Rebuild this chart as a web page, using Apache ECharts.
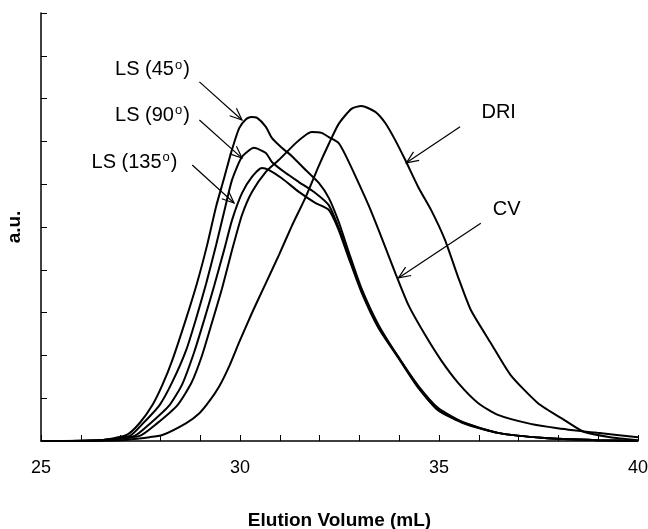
<!DOCTYPE html>
<html>
<head>
<meta charset="utf-8">
<script src="https://cdn.jsdelivr.net/npm/echarts@6/dist/echarts.min.js"></script>
<style>
  html, body { margin: 0; padding: 0; background: #fff; }
  #main { width: 648px; height: 529px; }
</style>
</head>
<body>
<div id="main"></div>
<script>
// elution volume (mL) / detector response (a.u.)
var ls45 = [[25,0],[26.5,0.02],[27.15,0.14],[27.48,0.42],[27.8,0.84],[28.05,1.31],[28.3,1.89],[28.65,2.87],[28.93,3.72],[29.18,4.6],[29.4,5.48],[29.6,6.14],[29.78,6.75],[29.98,7.31],[30.15,7.52],[30.28,7.57],[30.43,7.55],[30.65,7.34],[30.8,7.08],[31.05,6.85],[31.3,6.66],[31.65,6.33],[31.98,6.03],[32.23,5.68],[32.48,5.12],[32.73,4.42],[33.05,3.57],[33.48,2.71],[33.98,1.96],[34.48,1.29],[34.98,0.77],[35.65,0.42],[36.48,0.19],[37.65,0.07],[38.98,0.02],[40,0]];
var ls90 = [[25,0],[26.48,0.02],[27.23,0.12],[27.55,0.4],[27.98,0.84],[28.3,1.38],[28.65,2.13],[28.9,2.87],[29.15,3.68],[29.4,4.58],[29.6,5.35],[29.8,6.1],[30.05,6.64],[30.35,6.85],[30.65,6.73],[30.8,6.52],[31.15,6.26],[31.48,6.05],[31.9,5.79],[32.23,5.51],[32.48,4.98],[32.73,4.32],[33.05,3.53],[33.48,2.66],[33.98,1.96],[34.48,1.26],[34.98,0.72],[35.65,0.42],[36.48,0.19],[37.65,0.07],[38.98,0.02],[40,0]];
var ls135 = [[25,0],[26.48,0.02],[27.35,0.12],[27.73,0.4],[28.23,0.84],[28.55,1.33],[28.85,2.08],[29.1,2.83],[29.35,3.62],[29.6,4.46],[29.8,5.16],[30.05,5.79],[30.3,6.17],[30.55,6.38],[30.73,6.33],[31.05,6.14],[31.48,5.82],[31.9,5.56],[32.23,5.4],[32.48,4.93],[32.73,4.28],[33.05,3.48],[33.48,2.64],[33.98,1.94],[34.48,1.24],[34.98,0.72],[35.65,0.4],[36.48,0.19],[37.65,0.07],[38.98,0.02],[40,0]];
var cv = [[25,0],[26.48,0.02],[27.48,0.12],[27.9,0.4],[28.43,0.84],[28.78,1.36],[29.05,2.01],[29.3,2.78],[29.55,3.57],[29.8,4.46],[30.05,5.28],[30.3,5.82],[30.65,6.29],[30.98,6.57],[31.4,6.96],[31.65,7.15],[31.8,7.22],[32.05,7.2],[32.23,7.1],[32.48,6.96],[32.65,6.68],[32.9,6.19],[33.23,5.51],[33.55,4.77],[33.9,3.93],[34.23,3.18],[34.65,2.48],[35.05,1.89],[35.48,1.36],[35.98,0.89],[36.48,0.61],[37.3,0.4],[37.98,0.3],[38.98,0.19],[40,0.09]];
var dri = [[25,0],[26.98,0.02],[27.73,0.09],[28.05,0.14],[28.65,0.42],[28.98,0.65],[29.23,0.93],[29.48,1.28],[29.73,1.75],[29.98,2.31],[30.3,2.99],[30.65,3.69],[30.98,4.35],[31.3,5.02],[31.65,5.7],[31.98,6.43],[32.23,6.94],[32.48,7.41],[32.8,7.76],[33.05,7.83],[33.4,7.69],[33.65,7.43],[33.9,7.03],[34.15,6.57],[34.48,5.93],[34.8,5.4],[35.15,4.7],[35.48,3.83],[35.8,3.06],[36.3,2.29],[36.8,1.54],[37.48,0.89],[38.15,0.49],[38.65,0.21],[39.3,0.09],[40,0.02]];

// annotations: label text, label position, arrow tail, arrow tip (data coords)
var notes = [
  { text: 'LS (45{s|o})', at: [27.8, 8.67], from: [28.98, 8.39], to: [30.05, 7.5] },
  { text: 'LS (90{s|o})', at: [27.8, 7.6], from: [28.98, 7.5], to: [30.05, 6.61] },
  { text: 'LS (135{s|o})', at: [27.35, 6.5], from: [28.8, 6.45], to: [29.85, 5.56] },
  { text: 'DRI', at: [36.5, 7.68], from: [35.53, 7.34], to: [34.18, 6.5] },
  { text: 'CV', at: [36.7, 5.42], from: [36.05, 5.09], to: [33.98, 3.81] }
];

var chart = echarts.init(document.getElementById('main'));

function curve(name, data) {
  return {
    name: name,
    type: 'line',
    data: data,
    showSymbol: false,
    smooth: 0.2,
    lineStyle: { color: '#000', width: 2 },
    animation: false
  };
}

chart.setOption({
  animation: false,
  grid: { left: 41, right: 10, top: 13, bottom: 88, containLabel: false, outerBoundsMode: 'none' },
  xAxis: {
    type: 'value',
    min: 25,
    max: 40,
    interval: 1,
    name: 'Elution Volume (mL)',
    nameLocation: 'middle',
    nameGap: 70,
    nameTextStyle: { fontFamily: 'Liberation Sans', fontWeight: 'bold', fontSize: 19, color: '#000' },
    axisLine: { lineStyle: { color: '#000', width: 1.5 } },
    axisTick: { inside: true, length: 6, lineStyle: { color: '#000' } },
    axisLabel: {
      margin: 18,
      fontFamily: 'Liberation Sans',
      fontSize: 18,
      color: '#000',
      formatter: function (v) { return v % 5 === 0 ? String(v) : ''; }
    },
    splitLine: { show: false }
  },
  yAxis: {
    type: 'value',
    min: 0,
    max: 10,
    interval: 1,
    name: 'a.u.',
    nameLocation: 'middle',
    nameGap: 17,
    nameTextStyle: { fontFamily: 'Liberation Sans', fontWeight: 'bold', fontSize: 19, color: '#000' },
    axisLine: { show: true, lineStyle: { color: '#000', width: 1.5 } },
    axisTick: { show: true, inside: true, length: 6, lineStyle: { color: '#000' } },
    axisLabel: { show: false },
    splitLine: { show: false }
  },
  series: [
    curve('LS (45°)', ls45),
    curve('LS (90°)', ls90),
    curve('LS (135°)', ls135),
    curve('CV', cv),
    curve('DRI', dri)
  ]
});

// labels and open arrows placed from data coordinates
var els = [];
notes.forEach(function (n) {
  var p = chart.convertToPixel({ gridIndex: 0 }, n.at);
  var a = chart.convertToPixel({ gridIndex: 0 }, n.from);
  var b = chart.convertToPixel({ gridIndex: 0 }, n.to);
  els.push({
    type: 'text',
    x: p[0], y: p[1],
    style: {
      text: n.text,
      align: 'center',
      verticalAlign: 'middle',
      fontFamily: 'Liberation Sans',
      fontSize: 20,
      fill: '#000',
      rich: { s: { fontSize: 13, verticalAlign: 'top', padding: [0, 1, 10, 1] } }
    }
  });
  els.push({
    type: 'line',
    shape: { x1: a[0], y1: a[1], x2: b[0], y2: b[1] },
    style: { stroke: '#000', lineWidth: 1.2 }
  });
  var ang = Math.atan2(a[1] - b[1], a[0] - b[0]);
  var L = 13, spread = 0.4;
  els.push({
    type: 'polyline',
    shape: { points: [
      [b[0] + L * Math.cos(ang + spread), b[1] + L * Math.sin(ang + spread)],
      [b[0], b[1]],
      [b[0] + L * Math.cos(ang - spread), b[1] + L * Math.sin(ang - spread)]
    ] },
    style: { stroke: '#000', lineWidth: 1.2, fill: null }
  });
});
chart.setOption({ graphic: els });

window.onresize = chart.resize;
</script>
</body>
</html>
